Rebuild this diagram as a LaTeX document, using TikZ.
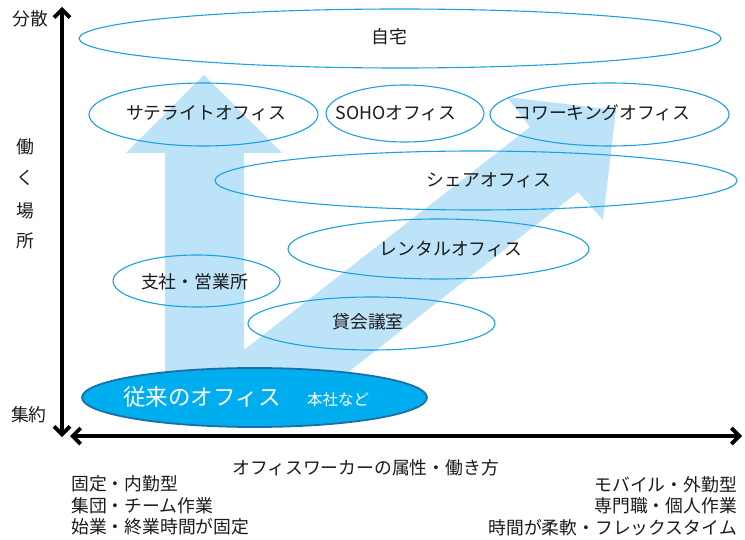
\documentclass[tikz,border=0pt]{standalone}
\usepackage{fontspec}
\setmainfont{Noto Sans CJK JP}
\usetikzlibrary{shapes.geometric,arrows.meta}
\definecolor{arrowblue}{HTML}{BDE3F8}
\definecolor{ovalblue}{HTML}{1BA1E2}
\definecolor{mainfill}{HTML}{00AEEF}
\definecolor{mainedge}{HTML}{1B6FA8}
\definecolor{txt}{HTML}{1A1A1A}
\begin{document}
\begin{tikzpicture}[x=1pt,y=-1pt,
  oval/.style={ellipse, draw=ovalblue, line width=1.1pt, inner sep=0pt, outer sep=0pt},
  lbl/.style={text=txt, font=\fontsize{17.8}{21}\selectfont, inner sep=0pt},
  axis/.style={line width=3.8pt, {Straight Barb[length=8pt,width=16pt]}-{Straight Barb[length=8pt,width=16pt]}},
]
\useasboundingbox (0,0) rectangle (745,540);

% big light-blue bent arrow
\fill[arrowblue] (165,395) -- (165,153) -- (126,153) -- (204,75) -- (282,153) -- (244,153)
  -- (244,350) -- (530,127) -- (507,97) -- (616,110) -- (603,220) -- (578,192) -- (319,395) -- cycle;

% ellipses
\node[oval, minimum width=642pt, minimum height=59pt] (home) at (400,38.5) {};
\node[oval, minimum width=229pt, minimum height=63pt] (sat) at (203.5,114.5) {};
\node[oval, minimum width=158pt, minimum height=57pt] (soho) at (405,113.5) {};
\node[oval, minimum width=239pt, minimum height=63pt] (cowork) at (609.5,114.5) {};
\node[oval, minimum width=522pt, minimum height=59pt] (share) at (476,180.5) {};
\node[oval, minimum width=301pt, minimum height=60pt] (rental) at (438.5,249) {};
\node[oval, minimum width=167pt, minimum height=52pt] (branch) at (196.5,281) {};
\node[oval, minimum width=247pt, minimum height=53pt] (meeting) at (371.5,323.5) {};
\node[ellipse, fill=mainfill, draw=mainedge, line width=1.8pt, inner sep=0pt,
      minimum width=345pt, minimum height=59pt] (main) at (254.5,397.5) {};

% labels in ellipses
\node[lbl] (thome) at (389,37) {自宅};
\node[lbl] (tsat) at (206,113) {サテライトオフィス};
\node[lbl] (tsoho) at (396,113) {SOHOオフィス};
\node[lbl] (tcow) at (602,113) {コワーキングオフィス};
\node[lbl] (tshare) at (489,180) {シェアオフィス};
\node[lbl] (trent) at (451,249) {レンタルオフィス};
\node[lbl] (tbranch) at (194.5,282) {支社・営業所};
\node[lbl] (tmeet) at (368,322) {貸会議室};
\node[lbl, text=white, font=\fontsize{22.5}{26}\selectfont] (tmain) at (202,397) {従来のオフィス};
\node[lbl, text=white, font=\fontsize{15.5}{18}\selectfont] (tmain2) at (338,400) {本社など};

% axes
\coordinate (ybot) at (62,437);
\coordinate (ytop) at (62,7);
\coordinate (xleft) at (70,436);
\coordinate (xright) at (742,436);
\draw[axis] (ybot) -- (ytop);
\draw[axis] (xleft) -- (xright);

% axis labels
\node[lbl] (disp) at (30,19) {分散};
\node[lbl] (conc) at (29,415) {集約};
\node[lbl] (w1) at (25,147) {働};
\node[lbl] (w2) at (25,178) {く};
\node[lbl] (w3) at (25,211) {場};
\node[lbl] (w4) at (25,241) {所};
\node[lbl, anchor=west] (xlab) at (232,468) {オフィスワーカーの属性・働き方};

\node[lbl, anchor=west] (l1) at (71,484) {固定・内勤型};
\node[lbl, anchor=west] (l2) at (71,505.5) {集団・チーム作業};
\node[lbl, anchor=west] (l3) at (71,527) {始業・終業時間が固定};
\node[lbl, anchor=east] (r1) at (737,485) {モバイル・外勤型};
\node[lbl, anchor=east] (r2) at (737,506) {専門職・個人作業};
\node[lbl, anchor=east] (r3) at (737,528) {時間が柔軟・フレックスタイム};
\end{tikzpicture}
\end{document}
